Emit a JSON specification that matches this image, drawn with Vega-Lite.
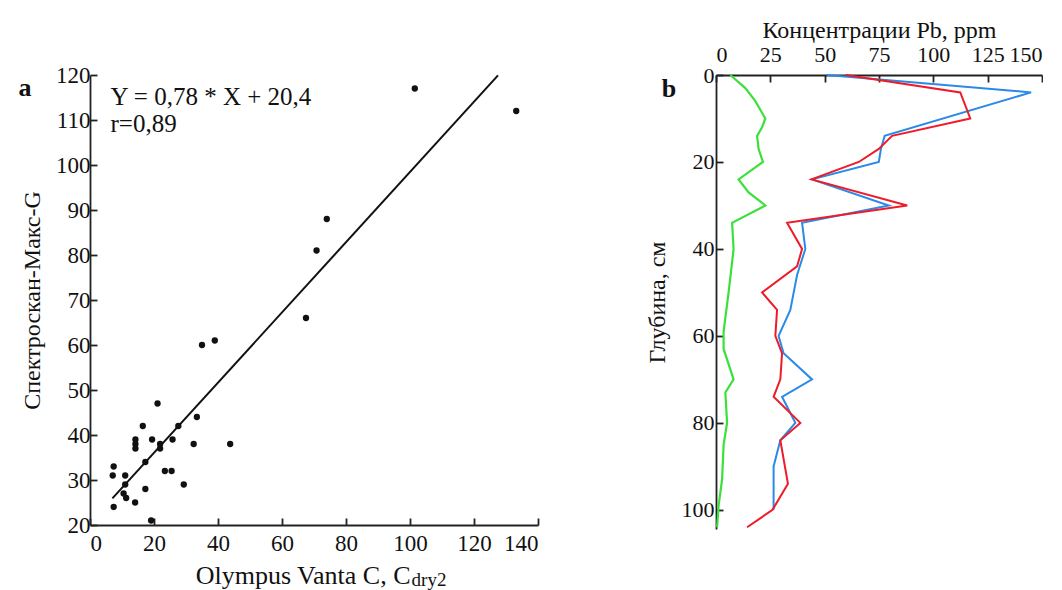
{
  "$schema": "https://vega.github.io/schema/vega-lite/v6.json",
  "background": "white",
  "padding": {"left": 18, "top": 18, "right": 0, "bottom": 0},
  "spacing": 106,
  "datasets": {
    "scatter": [
      {"vanta": 21.1, "spectro": 47}, {"vanta": 16.5, "spectro": 42}, {"vanta": 33.4, "spectro": 44},
      {"vanta": 27.6, "spectro": 42}, {"vanta": 14.2, "spectro": 39}, {"vanta": 14.2, "spectro": 38},
      {"vanta": 14.2, "spectro": 37}, {"vanta": 19.4, "spectro": 39}, {"vanta": 21.9, "spectro": 38},
      {"vanta": 21.9, "spectro": 37}, {"vanta": 25.8, "spectro": 39}, {"vanta": 32.4, "spectro": 38},
      {"vanta": 43.8, "spectro": 38}, {"vanta": 17.3, "spectro": 34}, {"vanta": 7.4, "spectro": 33},
      {"vanta": 7.1, "spectro": 31}, {"vanta": 11, "spectro": 31}, {"vanta": 23.4, "spectro": 32},
      {"vanta": 25.5, "spectro": 32}, {"vanta": 11, "spectro": 29}, {"vanta": 29.3, "spectro": 29},
      {"vanta": 17.3, "spectro": 28}, {"vanta": 10.5, "spectro": 27}, {"vanta": 11.3, "spectro": 26},
      {"vanta": 14.1, "spectro": 25}, {"vanta": 7.4, "spectro": 24}, {"vanta": 19.1, "spectro": 21},
      {"vanta": 35, "spectro": 60}, {"vanta": 39, "spectro": 61}, {"vanta": 67.5, "spectro": 66},
      {"vanta": 70.8, "spectro": 81}, {"vanta": 74, "spectro": 88}, {"vanta": 101.5, "spectro": 117},
      {"vanta": 133.2, "spectro": 112}
    ],
    "fit": [
      {"vanta": 7, "spectro": 25.9},
      {"vanta": 127.5, "spectro": 119.9}
    ],
    "profile": [
      {"series": "blue", "depth": 0, "pb": 51}, {"series": "blue", "depth": 4, "pb": 145},
      {"series": "blue", "depth": 14, "pb": 77.6}, {"series": "blue", "depth": 17, "pb": 75.9},
      {"series": "blue", "depth": 20, "pb": 74.9}, {"series": "blue", "depth": 24, "pb": 44.2},
      {"series": "blue", "depth": 30, "pb": 79.5}, {"series": "blue", "depth": 34, "pb": 39.6},
      {"series": "blue", "depth": 40, "pb": 41.1}, {"series": "blue", "depth": 46, "pb": 37.3},
      {"series": "blue", "depth": 54, "pb": 34.2}, {"series": "blue", "depth": 60, "pb": 28.8},
      {"series": "blue", "depth": 64, "pb": 31.1}, {"series": "blue", "depth": 70, "pb": 44.2},
      {"series": "blue", "depth": 74, "pb": 30.4}, {"series": "blue", "depth": 80, "pb": 36.5},
      {"series": "blue", "depth": 84, "pb": 29.6}, {"series": "blue", "depth": 90, "pb": 26.5},
      {"series": "blue", "depth": 100, "pb": 26.5},
      {"series": "red", "depth": 0, "pb": 59.8}, {"series": "red", "depth": 4, "pb": 112.4},
      {"series": "red", "depth": 10, "pb": 117}, {"series": "red", "depth": 14, "pb": 81},
      {"series": "red", "depth": 17, "pb": 74.9}, {"series": "red", "depth": 20, "pb": 65.7},
      {"series": "red", "depth": 24, "pb": 44}, {"series": "red", "depth": 30, "pb": 88},
      {"series": "red", "depth": 34, "pb": 32.7}, {"series": "red", "depth": 40, "pb": 39.6},
      {"series": "red", "depth": 44, "pb": 37.3}, {"series": "red", "depth": 50, "pb": 21.2},
      {"series": "red", "depth": 54, "pb": 28.1}, {"series": "red", "depth": 60, "pb": 27.3},
      {"series": "red", "depth": 64, "pb": 30.4}, {"series": "red", "depth": 70, "pb": 29.6},
      {"series": "red", "depth": 74, "pb": 26.5}, {"series": "red", "depth": 80, "pb": 38.8},
      {"series": "red", "depth": 84, "pb": 29.6}, {"series": "red", "depth": 94, "pb": 33.1},
      {"series": "red", "depth": 100, "pb": 26}, {"series": "red", "depth": 104, "pb": 14.3},
      {"series": "green", "depth": 0, "pb": 6.6}, {"series": "green", "depth": 3, "pb": 13.5},
      {"series": "green", "depth": 6, "pb": 18.1}, {"series": "green", "depth": 10, "pb": 22.7},
      {"series": "green", "depth": 12, "pb": 21.2}, {"series": "green", "depth": 14, "pb": 18.9},
      {"series": "green", "depth": 17, "pb": 19.6}, {"series": "green", "depth": 20, "pb": 21.6},
      {"series": "green", "depth": 24, "pb": 10.4}, {"series": "green", "depth": 27, "pb": 15},
      {"series": "green", "depth": 30, "pb": 22.7}, {"series": "green", "depth": 34, "pb": 7.4},
      {"series": "green", "depth": 40, "pb": 8.1}, {"series": "green", "depth": 50, "pb": 5.8},
      {"series": "green", "depth": 59, "pb": 3.5}, {"series": "green", "depth": 63, "pb": 3.5},
      {"series": "green", "depth": 70, "pb": 8.1}, {"series": "green", "depth": 73, "pb": 4.3},
      {"series": "green", "depth": 80, "pb": 5.1}, {"series": "green", "depth": 85, "pb": 3.5},
      {"series": "green", "depth": 93, "pb": 2.8}, {"series": "green", "depth": 99, "pb": 1.2},
      {"series": "green", "depth": 104, "pb": 0.5}
    ]
  },
  "hconcat": [
    {
      "width": 448,
      "height": 450,
      "layer": [
        {
          "data": {"name": "fit"},
          "mark": {"type": "line", "color": "#111", "strokeWidth": 2},
          "encoding": {
            "x": {"field": "vanta", "type": "quantitative",
                  "scale": {"domain": [0, 140], "nice": false, "zero": false},
                  "axis": {"title": "Olympus Vanta C, C", "values": [0, 20, 40, 60, 80, 100, 120, 140],
                           "titleAlign": "right", "titleX": 320, "titleBaseline": "alphabetic", "titleY": 58,
                           "titleFontSize": 26, "labelPadding": 14, "labelFontSize": 23}},
            "y": {"field": "spectro", "type": "quantitative",
                  "scale": {"domain": [20, 120], "nice": false, "zero": false},
                  "axis": {"title": "Спектроскан-Макс-G", "values": [20, 30, 40, 50, 60, 70, 80, 90, 100, 110, 120],
                           "titlePadding": 11, "labelPadding": 7, "labelFontSize": 23}}
          }
        },
        {
          "data": {"name": "scatter"},
          "mark": {"type": "point", "filled": true, "color": "#111", "size": 40, "opacity": 1},
          "encoding": {
            "x": {"field": "vanta", "type": "quantitative"},
            "y": {"field": "spectro", "type": "quantitative"}
          }
        },
        {
          "data": {"values": [{"t": "dry2"}]},
          "mark": {"type": "text", "align": "left", "baseline": "alphabetic", "fontSize": 19, "color": "#111"},
          "encoding": {
            "x": {"datum": 100.5},
            "y": {"datum": 6.5},
            "text": {"field": "t"}
          }
        },
        {
          "data": {"values": [{"t": "Y = 0,78 * X + 20,4"}]},
          "mark": {"type": "text", "align": "left", "baseline": "alphabetic", "fontSize": 25, "color": "#111"},
          "encoding": {
            "x": {"datum": 6.4},
            "y": {"datum": 113.3},
            "text": {"field": "t"}
          }
        },
        {
          "data": {"values": [{"t": "r=0,89"}]},
          "mark": {"type": "text", "align": "left", "baseline": "alphabetic", "fontSize": 25, "color": "#111"},
          "encoding": {
            "x": {"datum": 6.4},
            "y": {"datum": 107.3},
            "text": {"field": "t"}
          }
        },
        {
          "data": {"values": [{"t": "a"}]},
          "mark": {"type": "text", "align": "center", "baseline": "middle", "fontSize": 26, "fontWeight": "bold", "color": "#111"},
          "encoding": {
            "x": {"datum": -20.3},
            "y": {"datum": 117.1},
            "text": {"field": "t"}
          }
        }
      ]
    },
    {
      "width": 326,
      "height": 454,
      "data": {"name": "profile"},
      "layer": [
        {
          "transform": [{"filter": "datum.series === 'blue'"}],
          "mark": {"type": "line", "color": "#2a8ae6", "strokeWidth": 2},
          "encoding": {
            "x": {"field": "pb", "type": "quantitative",
                  "scale": {"domain": [0, 150], "nice": false, "zero": false},
                  "axis": {"orient": "top", "title": "Концентрации Pb, ppm", "values": [0, 25, 50, 75, 100, 125, 150],
                           "labelPadding": 16, "titlePadding": 1}},
            "y": {"field": "depth", "type": "quantitative",
                  "scale": {"domain": [0, 104.4], "nice": false, "zero": false, "reverse": true},
                  "axis": {"title": "Глубина, см", "values": [0, 20, 40, 60, 80, 100],
                           "labelPadding": 9, "titlePadding": 12}},
            "order": {"field": "depth", "type": "quantitative"}
          }
        },
        {
          "transform": [{"filter": "datum.series === 'red'"}],
          "mark": {"type": "line", "color": "#ee1c2b", "strokeWidth": 2},
          "encoding": {
            "x": {"field": "pb", "type": "quantitative"},
            "y": {"field": "depth", "type": "quantitative"},
            "order": {"field": "depth", "type": "quantitative"}
          }
        },
        {
          "transform": [{"filter": "datum.series === 'green'"}],
          "mark": {"type": "line", "color": "#3be03b", "strokeWidth": 2.2},
          "encoding": {
            "x": {"field": "pb", "type": "quantitative"},
            "y": {"field": "depth", "type": "quantitative"},
            "order": {"field": "depth", "type": "quantitative"}
          }
        },
        {
          "data": {"values": [{"t": "b"}]},
          "mark": {"type": "text", "align": "center", "baseline": "middle", "fontSize": 26, "fontWeight": "bold", "color": "#111"},
          "encoding": {
            "x": {"datum": -21.6},
            "y": {"datum": 3.3},
            "text": {"field": "t"}
          }
        }
      ]
    }
  ],
  "config": {
    "view": {"stroke": null},
    "font": "'Liberation Serif', 'Times New Roman', 'DejaVu Serif', serif",
    "text": {"font": "'Liberation Serif', 'Times New Roman', 'DejaVu Serif', serif"},
    "axis": {
      "grid": false,
      "domainColor": "#222",
      "domainWidth": 1.8,
      "tickColor": "#222",
      "tickWidth": 1.8,
      "tickSize": -7,
      "labelFont": "'Liberation Serif', 'Times New Roman', 'DejaVu Serif', serif",
      "labelFontSize": 22,
      "labelColor": "#111",
      "titleFont": "'Liberation Serif', 'Times New Roman', 'DejaVu Serif', serif",
      "titleFontSize": 24,
      "titleFontWeight": "normal",
      "titleColor": "#111"
    }
  }
}
